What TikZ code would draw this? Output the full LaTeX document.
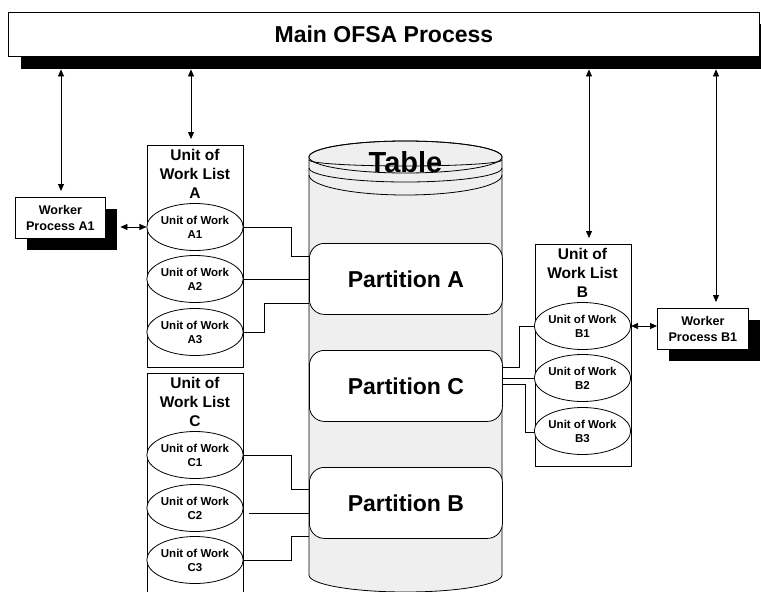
\documentclass[tikz,border=0pt]{standalone}
\usepackage{fontspec}
\setmainfont{Liberation Sans}
\usetikzlibrary{arrows.meta,shapes.geometric}
\definecolor{cylgray}{HTML}{EFEFEF}

\tikzset{
  frame/.style={draw, fill=white, line width=0.8pt, inner sep=0pt, anchor=north west},
  shadowbox/.style={fill=black, inner sep=0pt, anchor=north west},
  worker/.style={frame, minimum width=90pt, minimum height=41pt, align=center,
    font=\fontsize{12.6}{16}\selectfont\bfseries},
  listbox/.style={frame, minimum width=96pt},
  listtitle/.style={inner sep=0pt, align=center, font=\fontsize{15.5}{19}\selectfont\bfseries},
  uow/.style={ellipse, draw, fill=white, line width=0.8pt, minimum width=96pt,
    minimum height=47pt, inner sep=0pt, align=center,
    font=\fontsize{11.5}{14}\selectfont\bfseries},
  part/.style={draw, fill=white, rounded corners=15pt, line width=0.8pt, inner sep=0pt,
    minimum width=193pt, minimum height=71pt, anchor=north west,
    font=\fontsize{23}{27}\selectfont\bfseries},
  wire/.style={line width=0.8pt},
  dblarrow/.style={line width=0.8pt,
    {Triangle[length=7pt,width=6pt]}-{Triangle[length=7pt,width=6pt]}},
}

\begin{document}
\begin{tikzpicture}[x=1pt,y=-1pt]
\useasboundingbox (0,0) rectangle (761,592);

% main process bar with its drop shadow
\node[shadowbox, minimum width=740pt, minimum height=45pt] (mainshadow) at (21,24) {};
\node[frame, minimum width=751pt, minimum height=44pt,
      font=\fontsize{23}{27}\selectfont\bfseries] (main) at (8,12) {Main OFSA Process};

% the table cylinder
\draw[line width=0.8pt, fill=cylgray]
  (309,157) -- (309,575) arc[start angle=180, end angle=0, x radius=96.5, y radius=17]
  -- (502,157) arc[start angle=0, end angle=-180, x radius=96.5, y radius=16] -- cycle;
\draw[line width=0.8pt] (405.5,157) ellipse [x radius=96.5, y radius=16];
\draw[line width=0.8pt] (309,160) arc[start angle=180, end angle=0, x radius=96.5, y radius=6];
\draw[line width=0.8pt] (309,168) arc[start angle=180, end angle=0, x radius=96.5, y radius=14];
\draw[line width=0.8pt] (309,175) arc[start angle=180, end angle=0, x radius=96.5, y radius=20];
\node[font=\fontsize{29}{33}\selectfont\bfseries] (tbl) at (405.5,162) {Table};

% partitions
\node[part] (partA) at (309,243) {Partition A};
\node[part] (partC) at (309,350) {Partition C};
\node[part] (partB) at (309,467) {Partition B};

% unit of work list A
\node[listbox, minimum height=222pt] (listA) at (147,145) {};
\node[listtitle] (tA) at (195,174) {Unit of\\Work List\\A};
\node[uow] (uA1) at (195,227) {Unit of Work\\A1};
\node[uow] (uA2) at (195,279) {Unit of Work\\A2};
\node[uow] (uA3) at (195,332) {Unit of Work\\A3};

% unit of work list C
\node[listbox, minimum height=240pt] (listC) at (147,373) {};
\node[listtitle] (tC) at (195,402) {Unit of\\Work List\\C};
\node[uow] (uC1) at (195,455) {Unit of Work\\C1};
\node[uow] (uC2) at (195,508) {Unit of Work\\C2};
\node[uow] (uC3) at (195,560) {Unit of Work\\C3};

% unit of work list B
\node[listbox, minimum height=222pt] (listB) at (534.5,244) {};
\node[listtitle] (tB) at (582.5,273) {Unit of\\Work List\\B};
\node[uow] (uB1) at (582.5,326) {Unit of Work\\B1};
\node[uow] (uB2) at (582.5,378) {Unit of Work\\B2};
\node[uow] (uB3) at (582.5,431) {Unit of Work\\B3};

% worker processes
\node[shadowbox, minimum width=90pt, minimum height=41pt] (wA1sh) at (27,209) {};
\node[worker] (wA1) at (15,197) {Worker\\Process A1};
\node[shadowbox, minimum width=91pt, minimum height=41pt] (wB1sh) at (669,320) {};
\node[worker, minimum width=91pt] (wB1) at (657,308) {Worker\\Process B1};

% links to the main process
\draw[dblarrow, shorten >=6pt] (mainshadow.south -| 61,0) -- (wA1.north -| 61,0);
\draw[dblarrow, shorten >=6pt] (mainshadow.south -| 191,0) -- (listA.north -| 191,0);
\draw[dblarrow, shorten >=6pt] (mainshadow.south -| 589,0) -- (listB.north -| 589,0);
\draw[dblarrow, shorten >=6pt] (mainshadow.south -| 716,0) -- (wB1.north -| 716,0);

% workers to their units of work
\draw[dblarrow, shorten <=3pt] (wA1sh.east |- uA1.center) -- (uA1.west);
\draw[dblarrow] (uB1.east) -- (wB1.west |- uB1.center);

% units of work to partitions
\draw[wire] (uA1.east) -| (291,256) -- (partA.west |- 0,256);
\draw[wire] (uA2.east) -- (partA.west |- uA2.east);
\draw[wire] (uA3.east) -| (264,303) -- (partA.west |- 0,303);

\coordinate (c2tail) at (249,513);
\draw[wire] (uC1.east) -| (291,489) -- (partB.west |- 0,489);
\draw[wire] (c2tail) -- (partB.west |- c2tail);
\draw[wire] (uC3.east) -| (291,536) -- (partB.west |- 0,536);

\draw[wire] (partC.east |- 0,367) -| (519,326) -- (uB1.west);
\draw[wire] (partC.east |- uB2.west) -- (uB2.west);
\draw[wire] (partC.east |- 0,384) -| (525,432) -- (uB3.west |- 0,432);
\end{tikzpicture}
\end{document}
